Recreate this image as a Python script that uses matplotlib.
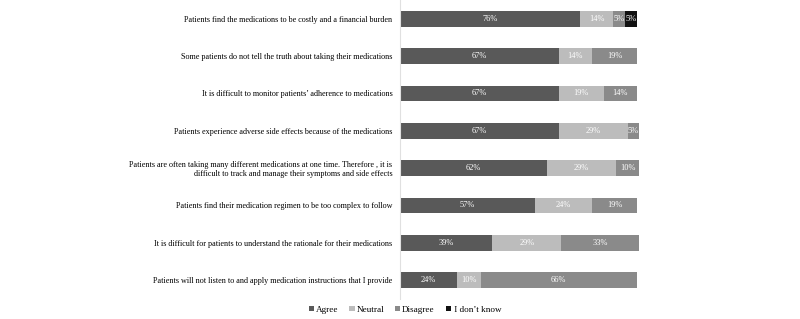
import matplotlib
matplotlib.use("Agg")
import matplotlib.pyplot as plt
import numpy as np

categories = [
    "Patients find the medications to be costly and a financial burden",
    "Some patients do not tell the truth about taking their medications",
    "It is difficult to monitor patients\u2019 adherence to medications",
    "Patients experience adverse side effects because of the medications",
    "Patients are often taking many different medications at one time. Therefore , it is\ndifficult to track and manage their symptoms and side effects",
    "Patients find their medication regimen to be too complex to follow",
    "It is difficult for patients to understand the rationale for their medications",
    "Patients will not listen to and apply medication instructions that I provide",
]
agree = [76, 67, 67, 67, 62, 57, 39, 24]
neutral = [14, 14, 19, 29, 29, 24, 29, 10]
disagree = [5, 19, 14, 5, 10, 19, 33, 66]
dont_know = [5, 0, 0, 0, 0, 0, 0, 0]
series_names = ["Agree", "Neutral", "Disagree", " I don\u2019t know"]
colors = ["#595959", "#bcbcbc", "#8a8a8a", "#111111"]

plt.rcParams['font.family'] = ['Liberation Serif', 'DejaVu Serif']
fig = plt.figure(figsize=(8, 3.19), dpi=100)
ax = fig.add_axes([0.5, 0.063, 102 * 2.37 / 800, 0.937])

y = np.arange(len(categories))
left = np.zeros(len(categories))
for vals, name, col in zip([agree, neutral, disagree, dont_know], series_names, colors):
    vals = np.array(vals, dtype=float)
    ax.barh(y, vals, left=left, height=0.42, color=col, label=name)
    for yi, v, l in zip(y, vals, left):
        if v > 0:
            ax.text(l + v / 2, yi, f"{int(v)}%", ha="center", va="center",
                    color="white", fontsize=6)
    left += vals

ax.set_ylim(len(categories) - 0.5, -0.5)
ax.set_xlim(0, 102)
ax.set_yticks(y)
ax.set_yticklabels(categories, fontsize=5.9, ha="right")
ax.tick_params(axis="y", length=0, pad=5.5)
ax.tick_params(axis="x", bottom=False, labelbottom=False)
for s in ["top", "right", "bottom"]:
    ax.spines[s].set_visible(False)
ax.spines["left"].set_color("#e0e0e0")
ax.spines["left"].set_linewidth(0.8)

fig.legend(loc="lower center", bbox_to_anchor=(0.507, -0.01), ncol=4, frameon=False,
           fontsize=6.6, handlelength=0.55, handleheight=0.55, handletextpad=0.2,
           columnspacing=1.2)

fig.savefig("out.png", dpi=100)
